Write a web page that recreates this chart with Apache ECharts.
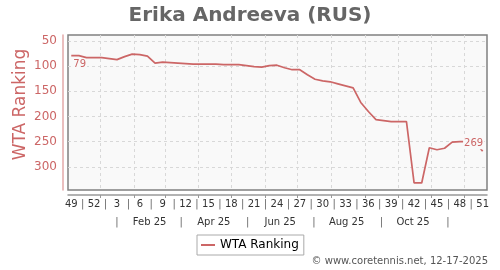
<!DOCTYPE html>
<html><head><meta charset="utf-8">
<script src="https://cdn.jsdelivr.net/npm/echarts@6/dist/echarts.min.js"></script>
<style>html,body{margin:0;padding:0;background:#fff}#c{width:500px;height:270px}</style>
</head><body><div id="c"></div>
<script>
// ---- data ----
const titleText = 'Erika Andreeva (RUS)';
const seriesName = 'WTA Ranking';
const firstWeekDate = '2024-12-05';   // week 49 of 2024 (weekly points)
const ranks = [79,79,83,83,83,85,87,81,76,77,80,94,92,93,94,95,96,96,96,96,97,97,97,99,101,102,99,98,103,107,107,117,126,129,131,135,139,143,172,190,206,208,210,210,210,332,332,262,266,263,251,250,250,250,269];
const weekLabels = ['49','52','3','6','9','12','15','18','21','24','27','30','33','36','39','42','45','48','51'];
const monthLabels = ['Feb 25','Apr 25','Jun 25','Aug 25','Oct 25'];
const monthLabelDates = ['2025-02-15','2025-04-15','2025-06-15','2025-08-15','2025-10-15'];
const monthSepDates = ['2025-01-16','2025-03-16','2025-05-16','2025-07-16','2025-09-16','2025-11-16'];
const monthTickDates = ['2025-01-01','2025-02-01','2025-03-01','2025-04-01','2025-05-01','2025-06-01','2025-07-01','2025-08-01','2025-09-01','2025-10-01','2025-11-01','2025-12-01'];
const yTicks = [50,100,150,200,250,300];
const xRange = ['2024-12-02','2025-12-22'];
const yRange = [38,346];
const copyright = '\u00A9 www.coretennis.net, 12-17-2025';

// ---- build ----
const DAY = 86400000;
const t = s => Date.parse(s + 'T00:00:00Z');
const t0 = t(firstWeekDate);
const pts = ranks.map((r, i) => [t0 + 7 * i * DAY, r]);
const weekTickVals = weekLabels.map((_, k) => t0 + 21 * k * DAY);
const weekSepVals = weekLabels.slice(1).map((_, k) => t0 + (21 * k + 10.5) * DAY);
const weekMap = {}; weekTickVals.forEach((v, k) => weekMap[v] = weekLabels[k]);
const monMap = {}; monthLabelDates.forEach((d, k) => monMap[t(d)] = monthLabels[k]);

const red = '#cc6666';
const FONT = 'DejaVu Sans';
const baseX = {
  type: 'value', min: t(xRange[0]), max: t(xRange[1]), position: 'bottom',
  splitLine: { show: false }, axisTick: { show: false }, axisLine: { show: false }
};

const data = pts.map((p, i) => {
  const d = { value: p };
  if (i === 0) d.label = { show: true, formatter: String(p[1]), position: [1.5, 4.5], align: 'left', verticalAlign: 'top',
    color: red, fontSize: 10, fontFamily: FONT, backgroundColor: '#f9f9f9', padding: [0, 1] };
  if (i === pts.length - 1) d.label = { show: true, formatter: String(p[1]), position: [2, -7.5], align: 'right', verticalAlign: 'middle',
    color: red, fontSize: 10, fontFamily: FONT, backgroundColor: '#f9f9f9', padding: [1, 1] };
  return d;
});

const chart = echarts.init(document.getElementById('c'), null, { renderer: 'canvas' });
chart.setOption({
  animation: false,
  title: { text: titleText, left: 'center', top: 1, textStyle: { fontSize: 20, fontWeight: 'bold', color: '#666', fontFamily: FONT } },
  grid: { left: 68, right: 13, top: 35, bottom: 80, show: true, backgroundColor: '#f9f9f9', borderColor: '#808080', borderWidth: 1.5 },
  legend: {
    data: [seriesName], left: 197, top: 235, padding: [4, 5, 4, 4], itemWidth: 14, itemHeight: 2, icon: 'rect',
    itemStyle: { color: red, opacity: 1 },
    borderColor: '#aaa', borderWidth: 1, borderRadius: 0, backgroundColor: '#fff',
    textStyle: { fontSize: 12, color: '#000', fontFamily: FONT }
  },
  xAxis: [
    Object.assign({}, baseX, {
      offset: 5,
      axisLine: { show: true, lineStyle: { color: '#999', width: 1.5 } },
      axisTick: { show: true, length: 3, customValues: monthTickDates.map(t), lineStyle: { color: '#999' } },
      splitLine: { show: true, lineStyle: { color: '#d8d8d8', type: [3, 3], width: 1 } },
      axisLabel: { customValues: weekTickVals, formatter: v => weekMap[v] || '', margin: 4, fontSize: 10, color: '#333', fontFamily: FONT }
    }),
    Object.assign({}, baseX, {
      offset: 5,
      axisLabel: { customValues: weekSepVals, formatter: () => '|', margin: 4, fontSize: 10, color: '#666', fontFamily: FONT }
    }),
    Object.assign({}, baseX, {
      offset: 23,
      axisLabel: { customValues: monthLabelDates.map(t), formatter: v => monMap[v] || '', margin: 4, fontSize: 10, color: '#333', fontFamily: FONT }
    }),
    Object.assign({}, baseX, {
      offset: 23,
      axisLabel: { customValues: monthSepDates.map(t), formatter: () => '|', margin: 4, fontSize: 10, color: '#666', fontFamily: FONT }
    })
  ],
  yAxis: {
    type: 'value', inverse: true, min: yRange[0], max: yRange[1], offset: 5,
    axisLine: { show: true, lineStyle: { color: '#e3a8a8', width: 1.5 } },
    axisTick: { show: false, customValues: yTicks },
    splitLine: { show: true, lineStyle: { color: '#d8d8d8', type: [3, 3], width: 1 } },
    axisLabel: { customValues: yTicks, margin: 6, fontSize: 12, color: red, fontFamily: FONT }
  },
  graphic: [
    { type: 'text', x: 21, y: 104.5, rotation: Math.PI / 2, style: { text: 'WTA Ranking', fontSize: 17, fill: red, fontFamily: FONT, align: 'center', verticalAlign: 'middle' } },
    { type: 'text', right: 12, top: 256, style: { text: copyright, fontSize: 10, fill: '#555', fontFamily: FONT } }
  ],
  series: [{
    name: seriesName, type: 'line', xAxisIndex: 0, data: data,
    symbol: 'circle', symbolSize: 1, showSymbol: true, showAllSymbol: true,
    itemStyle: { color: 'rgba(0,0,0,0)' }, lineStyle: { color: red, width: 1.7 },
    emphasis: { disabled: true }, z: 3
  }]
});
</script></body></html>
